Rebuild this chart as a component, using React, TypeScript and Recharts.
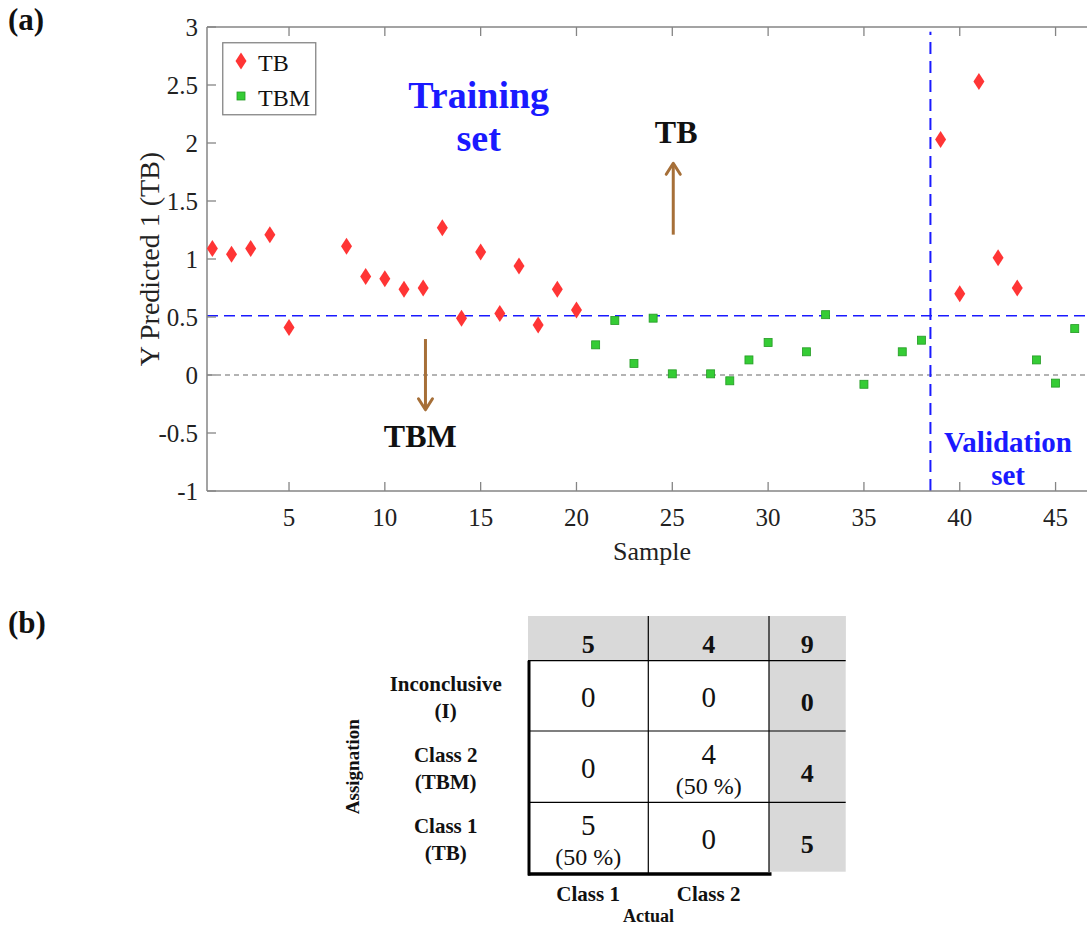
import React from 'react';
import { ScatterChart, Scatter, XAxis, YAxis, ReferenceLine, ReferenceDot, Legend } from 'recharts';

// (a) PLS-DA predicted values per sample
const tbSamples = [1, 2, 3, 4, 5, 8, 9, 10, 11, 12, 13, 14, 15, 16, 17, 18, 19, 20, 39, 40, 41, 42, 43];
const tbValues = [1.09, 1.04, 1.09, 1.21, 0.41, 1.11, 0.85, 0.83, 0.74, 0.75, 1.27, 0.49, 1.06, 0.53, 0.94, 0.43, 0.74, 0.56, 2.03, 0.7, 2.53, 1.01, 0.75];
const tbmSamples = [21, 22, 23, 24, 25, 27, 28, 29, 30, 32, 33, 35, 37, 38, 44, 45, 46];
const tbmValues = [0.26, 0.47, 0.1, 0.49, 0.01, 0.01, -0.05, 0.13, 0.28, 0.2, 0.52, -0.08, 0.2, 0.3, 0.13, -0.07, 0.4];

const xTicks = [5, 10, 15, 20, 25, 30, 35, 40, 45];
const yTicks = [-1, -0.5, 0, 0.5, 1, 1.5, 2, 2.5, 3];
const xDomain = [0.72, 46.64];
const yDomain = [-1, 3];
const threshold = 0.51;
const validationStart = 38.47;

// (b) confusion table
const columnTotals = [5, 4, 9];
const rowLabels = [['Inconclusive', '(I)'], ['Class 2', '(TBM)'], ['Class 1', '(TB)']];
const cellCounts = [[0, 0], [0, 4], [5, 0]];
const cellPercents = [[null, null], [null, '(50 %)'], ['(50 %)', null]];
const rowTotals = [0, 4, 5];
const columnLabels = ['Class 1', 'Class 2'];

const SERIF = "'Liberation Serif', Tinos, 'Times New Roman', Times, serif";
const AXIS_GREY = '#858585';
const BLUE = '#1a1aff';
const BROWN = '#a66f38';
const RED = '#ff3535';
const GREEN = '#35cc35';

const tbData = tbSamples.map((s, i) => ({ sample: s, value: tbValues[i] }));
const tbmData = tbmSamples.map((s, i) => ({ sample: s, value: tbmValues[i] }));

const Diamond = (props: any) => {
  const { cx, cy } = props;
  return <polygon points={`${cx},${cy - 8.5} ${cx + 5.5},${cy} ${cx},${cy + 8.5} ${cx - 5.5},${cy}`} fill={RED} />;
};

const GreenSquare = (props: any) => {
  const { cx, cy } = props;
  return <rect x={cx - 4} y={cy - 4} width={8} height={8} fill={GREEN} stroke="#239a23" strokeWidth={0.8} />;
};

const BottomTick = (props: any) => {
  const { x, y, payload } = props;
  return (
    <g>
      <line x1={x} y1={y} x2={x} y2={y - 9} stroke={AXIS_GREY} strokeWidth={1.3} />
      <text x={x} y={y + 35} textAnchor="middle" style={{ fontFamily: SERIF }} fontSize={25} fill="#222">
        {payload.value}
      </text>
    </g>
  );
};

const TopTick = (props: any) => {
  const { x, y } = props;
  return <line x1={x} y1={y} x2={x} y2={y + 9} stroke={AXIS_GREY} strokeWidth={1.3} />;
};

const LeftTick = (props: any) => {
  const { x, y, payload } = props;
  return (
    <g>
      <line x1={x} y1={y} x2={x + 9} y2={y} stroke={AXIS_GREY} strokeWidth={1.3} />
      <text x={x - 9} y={y + 9} textAnchor="end" style={{ fontFamily: SERIF }} fontSize={25} fill="#222">
        {payload.value}
      </text>
    </g>
  );
};

// text annotation anchored at a data point (centre of first baseline)
const textShape = (lines: string[], color: string, size: number, gap: number) => (props: any) => {
  const { cx, cy } = props;
  return (
    <g>
      {lines.map((l, i) => (
        <text key={i} x={cx} y={cy + i * gap} textAnchor="middle" style={{ fontFamily: SERIF }} fontWeight="bold" fontSize={size} fill={color}>
          {l}
        </text>
      ))}
    </g>
  );
};

const arrowHead = (dir: 'up' | 'down') => (props: any) => {
  const { cx, cy } = props;
  const s = dir === 'up' ? 1 : -1;
  return (
    <polyline
      points={`${cx - 7},${cy + s * 11} ${cx},${cy} ${cx + 7},${cy + s * 11}`}
      fill="none"
      stroke={BROWN}
      strokeWidth={3}
      strokeLinecap="round"
      strokeLinejoin="round"
    />
  );
};

const LegendBox = () => (
  <svg width={95} height={74}>
    <rect x={0.75} y={0.75} width={93} height={72} fill="#fff" stroke={AXIS_GREY} strokeWidth={1.3} />
    <Diamond cx={19} cy={19} />
    <text x={36} y={29} style={{ fontFamily: SERIF }} fontSize={24} fill="#111">TB</text>
    <GreenSquare cx={19} cy={54} />
    <text x={36} y={64} style={{ fontFamily: SERIF }} fontSize={24} fill="#111">TBM</text>
  </svg>
);

const colX = [528, 648.3, 769, 845.7];
const rowY = [616, 660.7, 731, 802.3, 874];

const ConfusionTable = () => {
  const cx = (i: number) => (colX[i] + colX[i + 1]) / 2;
  const cy = (i: number) => (rowY[i] + rowY[i + 1]) / 2;
  const f = { fontFamily: SERIF };
  return (
    <svg width={1087} height={325} viewBox="0 600 1087 325" style={{ position: 'absolute', left: 0, top: 600 }}>
      <text x={8} y={633} style={f} fontWeight="bold" fontSize={31} fill="#111">(b)</text>
      <rect x={colX[0]} y={rowY[0]} width={colX[3] - colX[0]} height={rowY[1] - rowY[0]} fill="#d9d9d9" />
      <rect x={colX[2]} y={rowY[0]} width={colX[3] - colX[2]} height={871.7 - rowY[0]} fill="#d9d9d9" />
      {[1, 2].map((i) => (
        <line key={'v' + i} x1={colX[i]} y1={rowY[0]} x2={colX[i]} y2={i === 1 ? rowY[4] : 872} stroke="#000" strokeWidth={1.2} />
      ))}
      {[1, 2, 3].map((i) => (
        <line key={'h' + i} x1={colX[0]} y1={rowY[i]} x2={colX[3]} y2={rowY[i]} stroke="#000" strokeWidth={1.2} />
      ))}
      <line x1={colX[0] + 1} y1={rowY[1]} x2={colX[0] + 1} y2={rowY[4] + 1.5} stroke="#000" strokeWidth={3} />
      <line x1={colX[0]} y1={rowY[4]} x2={771.5} y2={rowY[4]} stroke="#000" strokeWidth={3.5} />
      {columnTotals.map((v, i) => (
        <text key={'ct' + i} x={cx(i)} y={cy(0) + 15} textAnchor="middle" style={f} fontWeight="bold" fontSize={26} fill="#111">
          {v}
        </text>
      ))}
      {rowTotals.map((v, r) => (
        <text key={'rt' + r} x={cx(2)} y={cy(r + 1) + 15} textAnchor="middle" style={f} fontWeight="bold" fontSize={26} fill="#111">
          {v}
        </text>
      ))}
      {cellCounts.map((row, r) =>
        row.map((v, c) => {
          const pct = cellPercents[r][c];
          const top = rowY[r + 1];
          return (
            <g key={'c' + r + c}>
              <text x={cx(c)} y={pct ? top + 33 : cy(r + 1) + 11} textAnchor="middle" style={f} fontSize={29} fill="#111">
                {v}
              </text>
              {pct && (
                <text x={cx(c)} y={top + 63} textAnchor="middle" style={f} fontSize={24} fill="#111">
                  {pct}
                </text>
              )}
            </g>
          );
        })
      )}
      {rowLabels.map((lines, r) => (
        <g key={'rl' + r}>
          {lines.map((l, i) => (
            <text key={i} x={445.7} y={rowY[r + 1] + 30.5 + i * 27} textAnchor="middle" style={f} fontWeight="bold" fontSize={21} fill="#111">
              {l}
            </text>
          ))}
        </g>
      ))}
      <text x={0} y={0} transform="translate(358.5 766.7) rotate(-90)" textAnchor="middle" style={f} fontWeight="bold" fontSize={19} fill="#111">
        Assignation
      </text>
      {columnLabels.map((l, i) => (
        <text key={'cl' + i} x={cx(i)} y={900.5} textAnchor="middle" style={f} fontWeight="bold" fontSize={21} fill="#111">
          {l}
        </text>
      ))}
      <text x={(colX[0] + colX[2]) / 2} y={922} textAnchor="middle" style={f} fontWeight="bold" fontSize={18} fill="#111">
        Actual
      </text>
    </svg>
  );
};

export default function App() {
  return (
    <div style={{ position: 'absolute', left: 0, top: 0, width: 1087, height: 925, background: '#fff', overflow: 'hidden' }}>
      <div style={{ position: 'absolute', left: 8, top: 0, fontFamily: SERIF, fontWeight: 'bold', fontSize: 31, lineHeight: '40px', color: '#111' }}>
        (a)
      </div>
      <div style={{ position: 'absolute', left: 0, top: 0 }}>
        <ScatterChart width={1087} height={600} margin={{ top: 17, right: 0, bottom: 0, left: 0 }}>
          <XAxis
            xAxisId="bottom"
            dataKey="sample"
            type="number"
            domain={xDomain}
            ticks={xTicks}
            allowDataOverflow
            height={109}
            tickSize={0}
            tickMargin={0}
            tick={<BottomTick />}
            axisLine={{ stroke: AXIS_GREY, strokeWidth: 1.5 }}
            label={{ value: 'Sample', position: 'insideBottom', offset: 40, dx: 5, style: { fontFamily: SERIF, fontSize: 26, fill: '#222' } }}
          />
          <XAxis
            xAxisId="top"
            orientation="top"
            dataKey="sample"
            type="number"
            domain={xDomain}
            ticks={xTicks}
            allowDataOverflow
            height={10}
            tickSize={0}
            tickMargin={0}
            tick={<TopTick />}
            axisLine={{ stroke: AXIS_GREY, strokeWidth: 1.5 }}
          />
          <YAxis
            dataKey="value"
            type="number"
            domain={yDomain}
            ticks={yTicks}
            allowDataOverflow
            width={207}
            tickSize={0}
            tickMargin={0}
            tick={<LeftTick />}
            axisLine={{ stroke: AXIS_GREY, strokeWidth: 1.5 }}
            label={{ value: 'Y Predicted 1 (TB)', angle: -90, position: 'center', dx: 46, style: { fontFamily: SERIF, fontSize: 28, fill: '#222' } }}
          />
          <ReferenceLine xAxisId="bottom" y={0} stroke="#9a9a9a" strokeWidth={1.5} strokeDasharray="5 4" />
          <ReferenceLine xAxisId="bottom" y={threshold} stroke={BLUE} strokeWidth={1.5} strokeDasharray="11 6" />
          <ReferenceLine
            xAxisId="bottom"
            segment={[{ x: validationStart, y: -1 }, { x: validationStart, y: 2.96 }]}
            stroke={BLUE}
            strokeWidth={2}
            strokeDasharray="12 7"
          />
          <Scatter xAxisId="bottom" name="TB" data={tbData} shape={Diamond} isAnimationActive={false} />
          <Scatter xAxisId="bottom" name="TBM" data={tbmData} shape={GreenSquare} isAnimationActive={false} />

          {/* arrows */}
          <ReferenceLine xAxisId="bottom" segment={[{ x: 25.05, y: 1.21 }, { x: 25.05, y: 1.82 }]} stroke={BROWN} strokeWidth={3} />
          <ReferenceDot xAxisId="bottom" x={25.05} y={1.825} r={0} shape={arrowHead('up')} />
          <ReferenceLine xAxisId="bottom" segment={[{ x: 12.12, y: 0.31 }, { x: 12.12, y: -0.29 }]} stroke={BROWN} strokeWidth={3} />
          <ReferenceDot xAxisId="bottom" x={12.12} y={-0.3} r={0} shape={arrowHead('down')} />

          {/* annotations */}
          <ReferenceDot xAxisId="bottom" x={14.9} y={2.3} r={0} shape={textShape(['Training', 'set'], BLUE, 38, 43)} />
          <ReferenceDot xAxisId="bottom" x={25.2} y={2.0} r={0} shape={textShape(['TB'], '#111', 32, 0)} />
          <ReferenceDot xAxisId="bottom" x={11.85} y={-0.62} r={0} shape={textShape(['TBM'], '#111', 32, 0)} />
          <ReferenceDot xAxisId="bottom" x={42.52} y={-0.66} r={0} shape={textShape(['Validation', 'set'], BLUE, 29, 33)} />

          <Legend
            layout="horizontal"
            verticalAlign="middle"
            align="center"
            content={() => <LegendBox />}
            wrapperStyle={{ position: 'absolute', left: 222, top: 42, width: 95, height: 74 }}
          />
        </ScatterChart>
      </div>
      <ConfusionTable />
    </div>
  );
}
